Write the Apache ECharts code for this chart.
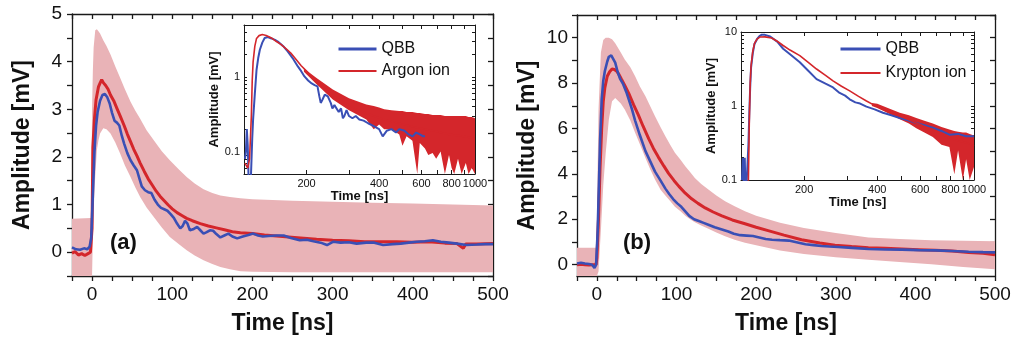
<!DOCTYPE html>
<html><head><meta charset="utf-8">
<script src="https://cdn.jsdelivr.net/npm/echarts@6/dist/echarts.min.js"></script>
<style>html,body{margin:0;padding:0;background:#fff}#c{width:1014px;height:341px}</style>
</head><body><div id="c"></div>
<script>
// ---------- DATA ----------
// main panel (a): time [ns], amplitude [mV]
const redA = [[-25,-0.02],[-21,0.01],[-17,-0.06],[-13,-0.03],[-9,-0.07],[-5,-0.03],[-2,0.0],[0,0.5],[1,2.2],[3,2.8],[5,3.2],[8,3.47],[10,3.55],[12,3.62],[14,3.56],[17,3.5],[20,3.42],[23,3.3],[27,3.18],[31,3.02],[35,2.86],[40,2.66],[44,2.48],[48,2.32],[52,2.16],[56,2.02],[60,1.87],[65,1.7],[70,1.54],[75,1.41],[80,1.28],[85,1.17],[90,1.08],[95,0.99],[100,0.91],[106,0.83],[112,0.77],[118,0.71],[125,0.66],[135,0.6],[145,0.55],[155,0.51],[165,0.47],[175,0.43],[185,0.41],[200,0.39],[215,0.36],[230,0.34],[245,0.32],[260,0.3],[280,0.27],[300,0.25],[320,0.24],[340,0.22],[360,0.22],[380,0.22],[400,0.21],[420,0.22],[440,0.19],[455,0.18],[463,0.08],[466,0.17],[480,0.17],[500,0.18]];
const blueA = [[-25,0.1],[-20,0.06],[-15,0.05],[-10,0.08],[-6,0.06],[-3,0.12],[-1,0.3],[1,1.2],[3,2.1],[5,2.65],[7,2.95],[10,3.18],[13,3.3],[16,3.32],[19,3.25],[22,3.12],[25,2.92],[28,2.76],[31,2.72],[34,2.66],[37,2.45],[40,2.28],[44,2.08],[48,1.93],[52,1.82],[56,1.72],[59,1.55],[62,1.38],[66,1.3],[70,1.26],[74,1.24],[78,1.1],[82,1.0],[86,0.93],[90,0.9],[94,0.87],[98,0.8],[102,0.72],[106,0.6],[110,0.5],[113,0.55],[116,0.66],[119,0.6],[122,0.46],[126,0.48],[131,0.53],[135,0.46],[139,0.39],[143,0.42],[147,0.46],[151,0.45],[155,0.38],[160,0.31],[165,0.35],[170,0.39],[175,0.33],[181,0.29],[188,0.33],[195,0.36],[201,0.39],[207,0.35],[213,0.33],[220,0.34],[230,0.35],[239,0.35],[248,0.3],[259,0.25],[268,0.26],[276,0.23],[285,0.2],[293,0.15],[301,0.22],[310,0.2],[320,0.21],[330,0.18],[342,0.2],[352,0.2],[363,0.15],[375,0.17],[385,0.18],[395,0.2],[405,0.22],[415,0.23],[425,0.25],[435,0.22],[445,0.2],[455,0.18],[467,0.15],[480,0.16],[490,0.17],[500,0.17]];
const bandA_t  = [-25,-1,0,1,2,4,6,8,10,14,18,23,29,35,41,48,54,60,68,77,87,97,108,118,128,139,150,160,172,185,200,250,300,350,400,450,500];
const bandA_hi = [0.7,0.72,3.0,3.8,4.3,4.66,4.68,4.64,4.59,4.45,4.33,4.15,3.9,3.66,3.42,3.16,2.97,2.8,2.56,2.35,2.12,1.93,1.74,1.58,1.44,1.32,1.24,1.19,1.16,1.13,1.11,1.08,1.06,1.04,1.02,1.0,0.98];
const bandA_lo = [-0.7,-0.7,-0.7,0.3,0.88,1.6,2.14,2.35,2.49,2.6,2.58,2.49,2.3,2.07,1.82,1.58,1.36,1.16,0.94,0.74,0.52,0.32,0.17,0.04,-0.07,-0.17,-0.25,-0.31,-0.36,-0.4,-0.41,-0.42,-0.42,-0.42,-0.42,-0.42,-0.42];

// main panel (b)
const redB = [[-25,0.0],[-20,0.02],[-15,0.0],[-10,-0.02],[-5,0.0],[-1,0.0],[0,0.3],[2,2.0],[4,4.3],[6,6.0],[8,7.2],[10,7.8],[13,8.3],[16,8.5],[19,8.62],[22,8.6],[25,8.52],[28,8.36],[31,8.16],[35,7.9],[40,7.55],[46,7.05],[52,6.6],[58,6.1],[65,5.55],[71,5.12],[77,4.75],[84,4.35],[90,4.02],[97,3.7],[103,3.45],[111,3.15],[119,2.9],[127,2.7],[136,2.5],[146,2.32],[157,2.15],[170,1.97],[186,1.8],[200,1.65],[215,1.5],[235,1.3],[257,1.1],[280,0.95],[299,0.86],[320,0.8],[341,0.75],[362,0.72],[383,0.69],[404,0.66],[425,0.63],[446,0.6],[467,0.54],[485,0.5],[500,0.44]];
const blueB = [[-25,0.05],[-20,0.08],[-15,0.05],[-10,0.03],[-6,0.0],[-3,-0.15],[-1,0.0],[1,1.5],[2,2.87],[4,5.5],[6,7.28],[8,8.1],[10,8.53],[13,8.95],[15,9.16],[18,9.22],[20,9.2],[23,8.9],[26,8.5],[29,8.2],[33,7.95],[37,7.6],[40,7.28],[44,6.85],[48,6.35],[54,5.7],[61,5.0],[67,4.55],[73,4.1],[80,3.7],[86,3.35],[91,3.1],[96,2.88],[101,2.7],[106,2.55],[111,2.35],[116,2.15],[122,2.0],[128,1.92],[134,1.84],[140,1.76],[148,1.65],[157,1.55],[165,1.46],[172,1.36],[180,1.3],[188,1.28],[196,1.26],[204,1.2],[212,1.13],[220,1.1],[230,1.08],[241,1.06],[252,0.98],[262,0.9],[272,0.86],[282,0.82],[292,0.8],[303,0.78],[320,0.74],[341,0.69],[362,0.67],[383,0.66],[404,0.64],[425,0.63],[446,0.6],[467,0.57],[485,0.55],[500,0.54]];
const bandB_t  = [-25,-1,0,2,5,8,11,15,19,23,30,35,42,48,54,61,67,73,80,86,92,98,105,111,117,123,131,140,150,161,173,186,200,230,260,300,341,380,420,460,500];
const bandB_hi = [0.74,0.74,2.0,6.8,9.35,9.9,10.0,10.0,9.93,9.75,9.35,9.04,8.7,8.3,7.85,7.42,6.98,6.54,6.05,5.66,5.28,4.93,4.62,4.34,4.08,3.82,3.55,3.31,3.05,2.79,2.57,2.35,2.15,1.85,1.62,1.4,1.2,1.13,1.08,1.05,1.03];
const bandB_lo = [-0.7,-0.7,-0.7,-0.3,1.5,3.5,4.9,6.4,7.2,7.34,7.1,6.84,6.35,5.81,5.3,4.7,4.2,3.75,3.3,3.05,2.8,2.55,2.35,2.15,2.0,1.87,1.72,1.58,1.42,1.25,1.1,0.96,0.85,0.62,0.47,0.33,0.22,0.12,0.02,-0.1,-0.2];

// inset (a): log-log
const insRedA = [[111,0.07],[114,0.06],[116,0.08],[118,0.3],[119,0.9],[120,1.6],[122,2.6],[124,3.3],[127,3.6],[131,3.72],[136,3.62],[143,3.35],[150,3.0],[157,2.72],[165,2.38],[172,2.1],[181,1.72],[190,1.42],[200,1.2],[210,1.02],[220,0.88],[230,0.77],[245,0.64],[260,0.55],[280,0.47],[300,0.42],[330,0.36],[370,0.31],[420,0.27],[485,0.24],[570,0.21],[670,0.19],[780,0.17],[900,0.16],[1000,0.15]];
const insBlueA = [[111,0.08],[112,0.1],[113,0.2],[114,0.12],[115,0.04],[117,0.03],[119,0.15],[120,0.27],[122,0.6],[124,1.25],[126,1.8],[128,2.33],[131,2.9],[134,3.34],[138,3.45],[143,3.3],[148,3.15],[152,3.0],[160,2.6],[167,2.21],[175,1.8],[184,1.39],[190,1.2],[196,1.02],[203,0.9],[210,0.82],[216,0.78],[222,0.75],[226,0.55],[229,0.45],[233,0.5],[238,0.58],[245,0.55],[252,0.45],[256,0.38],[261,0.42],[266,0.4],[272,0.34],[278,0.38],[283,0.28],[287,0.3],[293,0.36],[300,0.3],[310,0.28],[320,0.3],[331,0.27],[345,0.26],[360,0.24],[380,0.22],[400,0.2],[414,0.16],[430,0.19],[450,0.2],[470,0.18],[485,0.2],[510,0.19],[530,0.17],[551,0.16],[570,0.18],[590,0.17],[610,0.16],[620,0.16]];
const envA_t  = [195,220,257,300,354,380,400,420,450,485,500,520,550,576,590,620,640,667,690,720,750,780,800,820,850,880,916,940,970,1000];
const envA_hi = [1.3,0.97,0.68,0.52,0.43,0.41,0.39,0.37,0.36,0.35,0.35,0.34,0.34,0.33,0.33,0.32,0.32,0.31,0.31,0.31,0.3,0.3,0.3,0.3,0.3,0.3,0.3,0.29,0.29,0.28];
const envA_lo = [1.18,0.8,0.5,0.36,0.27,0.2,0.23,0.2,0.2,0.17,0.12,0.16,0.14,0.03,0.13,0.11,0.09,0.096,0.08,0.1,0.045,0.09,0.06,0.04,0.08,0.045,0.07,0.04,0.06,0.045];

// inset (b): log-log
const insRedB = [[112,0.05],[117,0.05],[118,0.1],[119,0.6],[120,2.0],[121,3.5],[123,5.5],[125,7.0],[128,8.0],[132,8.57],[138,8.6],[147,8.3],[155,7.5],[164,6.57],[175,5.7],[192,4.8],[208,3.9],[225,3.16],[245,2.6],[263,2.19],[285,1.85],[308,1.6],[335,1.35],[361,1.17],[390,1.02],[422,0.9],[457,0.8],[495,0.73],[535,0.66],[579,0.59],[625,0.53],[677,0.48],[735,0.42],[792,0.37],[860,0.34],[928,0.32],[1000,0.29]];
const insBlueB = [[111,0.1],[112,0.2],[113,0.08],[114,0.2],[115,0.05],[117,0.05],[118,0.3],[119,0.8],[120,1.8],[121,3.3],[123,5.2],[125,6.9],[128,8.0],[131,8.8],[134,9.2],[138,9.15],[145,8.7],[155,7.4],[164,5.94],[175,5.0],[192,3.91],[208,3.0],[225,2.31],[245,2.0],[263,1.78],[280,1.5],[295,1.38],[308,1.23],[325,1.12],[340,1.08],[361,0.98],[390,0.9],[422,0.81],[457,0.75],[495,0.69],[535,0.64],[579,0.59],[625,0.55],[677,0.51],[735,0.46],[792,0.41],[860,0.42],[928,0.39],[1000,0.39]];
const envB_t  = [380,400,450,495,540,579,625,677,735,792,830,860,900,928,960,1000];
const envB_hi = [1.1,1.07,0.92,0.81,0.75,0.69,0.63,0.58,0.52,0.48,0.46,0.45,0.44,0.44,0.42,0.4];
const envB_lo = [1.0,0.94,0.78,0.66,0.58,0.5,0.44,0.38,0.3,0.28,0.12,0.25,0.09,0.19,0.1,0.15];

// ticks and labels
const mainXTicks  = [-25,0,25,50,75,100,125,150,175,200,225,250,275,300,325,350,375,400,425,450,475,500];
const mainXLabels = [0,100,200,300,400,500];
const mainAYTicks  = [-0.5,0,0.5,1,1.5,2,2.5,3,3.5,4,4.5,5];
const mainAYLabels = [0,1,2,3,4,5];
const mainBYTicks  = [0,1,2,3,4,5,6,7,8,9,10,11];
const mainBYLabels = [0,2,4,6,8,10];
const insXTicks  = [200,300,400,500,600,700,800,900,1000];
const insXLabels = [200,400,600,800,1000];
const insAYTicks  = [0.06,0.07,0.08,0.09,0.1,0.2,0.3,0.4,0.5,0.6,0.7,0.8,0.9,1,2,3,4,5];
const insAYLabels = [0.1,1];
const insBYTicks  = [0.2,0.3,0.4,0.5,0.6,0.7,0.8,0.9,1,2,3,4,5,6,7,8,9,10];
const insBYLabels = [0.1,1,10];

// ---------- STYLE ----------
const FONT = "'Liberation Sans', Arial, sans-serif";
const AX = '#1a1a1a';
const RED = '#d4262b', BLUE = '#3a4fb5', PINK = '#e9b3b7';

function axis(o) {
  return {
    type: o.type || 'value', gridIndex: o.grid, position: o.pos, min: o.min, max: o.max,
    logBase: 10, z: o.z || 0, scale: true,
    axisLine: { show: true, onZero: false, lineStyle: { color: AX, width: o.lw || 1.3 } },
    axisTick: { show: true, inside: !!o.inside, length: o.len, customValues: o.ticks, lineStyle: { color: AX, width: o.lw || 1.3 } },
    axisLabel: { show: !!o.labels, customValues: o.labels, margin: o.margin, color: '#111',
      fontSize: o.fs, fontFamily: FONT, formatter: v => String(+Number(v).toPrecision(6)) },
    splitLine: { show: false }, minorTick: { show: false },
    name: o.name || '', nameLocation: 'middle', nameGap: o.nameGap,
    nameTextStyle: { fontSize: o.nfs, fontWeight: 'bold', color: '#111', fontFamily: FONT }
  };
}

const xAxis = [
  axis({grid:0,pos:'bottom',min:-25,max:500,ticks:mainXTicks,labels:mainXLabels,len:5,fs:19,margin:9,name:'Time [ns]',nameGap:36,nfs:23}),
  axis({grid:0,pos:'top',min:-25,max:500,ticks:mainXTicks,len:5,inside:true}),
  axis({grid:1,pos:'bottom',min:-25,max:500,ticks:mainXTicks,labels:mainXLabels,len:5,fs:19,margin:9,name:'Time [ns]',nameGap:36,nfs:23}),
  axis({grid:1,pos:'top',min:-25,max:500,ticks:mainXTicks,len:5,inside:true}),
  axis({grid:2,type:'log',pos:'bottom',min:110,max:1000,ticks:insXTicks,labels:insXLabels,len:4,inside:true,fs:11,margin:4,name:'Time [ns]',nameGap:15,nfs:13,z:5,lw:1}),
  axis({grid:2,type:'log',pos:'top',min:110,max:1000,ticks:insXTicks,len:4,inside:true,z:5,lw:1}),
  axis({grid:3,type:'log',pos:'bottom',min:110,max:1000,ticks:insXTicks,labels:insXLabels,len:4,inside:true,fs:11,margin:4,name:'Time [ns]',nameGap:15,nfs:13,z:5,lw:1}),
  axis({grid:3,type:'log',pos:'top',min:110,max:1000,ticks:insXTicks,len:4,inside:true,z:5,lw:1})
];
const yAxis = [
  axis({grid:0,pos:'left',min:-0.5,max:5,ticks:mainAYTicks,labels:mainAYLabels,len:5,fs:19,margin:10,name:'Amplitude [mV]',nameGap:38,nfs:23}),
  axis({grid:0,pos:'right',min:-0.5,max:5,ticks:mainAYTicks,len:5,inside:true}),
  axis({grid:1,pos:'left',min:-0.5,max:11,ticks:mainBYTicks,labels:mainBYLabels,len:5,fs:19,margin:9,name:'Amplitude [mV]',nameGap:38,nfs:23}),
  axis({grid:1,pos:'right',min:-0.5,max:11,ticks:mainBYTicks,len:5,inside:true}),
  axis({grid:2,type:'log',pos:'left',min:0.05,max:5,ticks:insAYTicks,labels:insAYLabels,len:3,inside:true,fs:11,margin:4,name:'Amplitude [mV]',nameGap:14,nfs:13,z:5,lw:1}),
  axis({grid:2,type:'log',pos:'right',min:0.05,max:5,ticks:insAYTicks,len:3,inside:true,z:5,lw:1}),
  axis({grid:3,type:'log',pos:'left',min:0.1,max:10,ticks:insBYTicks,labels:insBYLabels,len:3,inside:true,fs:11,margin:4,name:'Amplitude [mV]',nameGap:16,nfs:13,z:5,lw:1}),
  axis({grid:3,type:'log',pos:'right',min:0.1,max:10,ticks:insBYTicks,len:3,inside:true,z:5,lw:1})
];

function line(name, data, xi, yi, color, width, z) {
  return { type:'line', name, data, xAxisIndex:xi, yAxisIndex:yi, symbol:'none', showSymbol:false,
    lineStyle:{color, width}, itemStyle:{color}, z, clip:true, animation:false };
}
// filled band between lo and hi, drawn through the axes' own coordinate mapping
function band(id, t, lo, hi, xi, yi, color, z) {
  return {
    type:'custom', name:id, xAxisIndex:xi, yAxisIndex:yi, clip:true, z, silent:true, animation:false,
    data:[[t[0], hi[0]]], encode:{x:0, y:1},
    renderItem: function (params, api) {
      const cs = params.coordSys;
      const y0 = cs.y, y1 = cs.y + cs.height, x0 = cs.x, x1 = cs.x + cs.width;
      const clamp = p => [Math.min(Math.max(p[0], x0), x1), Math.min(Math.max(p[1], y0), y1)];
      const pts = [];
      for (let i = 0; i < t.length; i++) pts.push(clamp(api.coord([t[i], hi[i]])));
      for (let i = t.length - 1; i >= 0; i--) pts.push(clamp(api.coord([t[i], lo[i]])));
      return { type:'polygon', shape:{points:pts}, style:{fill:color} };
    }
  };
}

const series = [
  band('bandA', bandA_t, bandA_lo, bandA_hi, 0, 0, PINK, 1),
  line('Argon ion (main)', redA, 0, 0, RED, 3, 2),
  line('QBB (a main)', blueA, 0, 0, BLUE, 2.6, 3),
  band('bandB', bandB_t, bandB_lo, bandB_hi, 2, 2, PINK, 1),
  line('Krypton ion (main)', redB, 2, 2, RED, 3, 2),
  line('QBB (b main)', blueB, 2, 2, BLUE, 2.6, 3),
  line('QBB', insBlueA, 4, 4, BLUE, 2, 6),
  band('envA', envA_t, envA_lo, envA_hi, 4, 4, RED, 6),
  line('Argon ion', insRedA, 4, 4, RED, 1.6, 7),
  line('QBB', insBlueB, 6, 6, BLUE, 2, 6),
  band('envB', envB_t, envB_lo, envB_hi, 6, 6, RED, 6),
  line('Krypton ion', insRedB, 6, 6, RED, 1.6, 7)
];

const legendBase = { orient:'vertical', itemHeight:14, padding:0, selectedMode:false, z:8,
  textStyle:{fontSize:16, color:'#111', fontFamily:FONT}, itemStyle:{opacity:0} };

const option = {
  animation:false,
  backgroundColor:'#fff',
  grid: [
    {left:72, top:14, width:421, height:262},
    {left:577, top:15, width:418, height:261},
    {left:244, top:25, width:231, height:149, show:true, backgroundColor:'#fff', borderWidth:0, z:4},
    {left:741, top:32, width:233, height:148, show:true, backgroundColor:'#fff', borderWidth:0, z:4}
  ],
  xAxis, yAxis, series,
  legend: [
    Object.assign({}, legendBase, {left:337, top:41, itemWidth:38, itemGap:6,
      data:[{name:'QBB', lineStyle:{width:3}}, {name:'Argon ion', lineStyle:{width:2}}]}),
    Object.assign({}, legendBase, {left:839, top:41, itemWidth:40, itemGap:8,
      data:[{name:'QBB', lineStyle:{width:3}}, {name:'Krypton ion', lineStyle:{width:2}}]})
  ],
  graphic: [
    {type:'text', left:110, top:232, z:10, style:{text:'(a)', font:"bold 22px 'Liberation Sans', Arial, sans-serif", fill:'#111'}},
    {type:'text', left:623, top:232, z:10, style:{text:'(b)', font:"bold 22px 'Liberation Sans', Arial, sans-serif", fill:'#111'}}
  ]
};

const chart = echarts.init(document.getElementById('c'), null, {renderer:'canvas'});
chart.setOption(option);
</script></body></html>
